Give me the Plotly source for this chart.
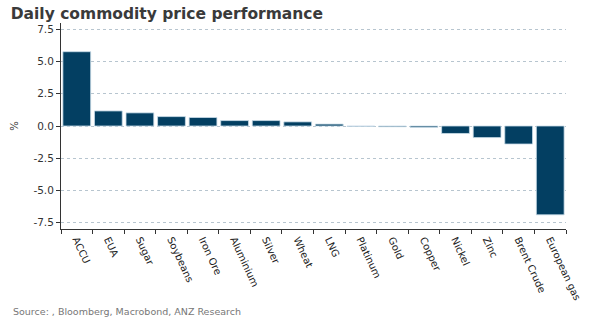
import plotly.graph_objects as go

commodities = ["ACCU", "EUA", "Sugar", "Soybeans", "Iron Ore", "Aluminium", "Silver", "Wheat",
               "LNG", "Platinum", "Gold", "Copper", "Nickel", "Zinc", "Brent Crude", "European gas"]
change_pct = [5.77, 1.17, 1.02, 0.73, 0.66, 0.42, 0.42, 0.32,
              0.15, -0.03, -0.06, -0.10, -0.58, -0.90, -1.40, -6.90]
y_ticks = [-7.5, -5.0, -2.5, 0.0, 2.5, 5.0, 7.5]

BAR = "#033f62"
FONT = "DejaVu Sans"

fig = go.Figure(
    go.Bar(
        x=commodities,
        y=change_pct,
        marker=dict(color=BAR, line=dict(color="#c9dce8", width=0.8)),
    )
)

fig.update_layout(
    width=595,
    height=328,
    margin=dict(l=61, r=22, t=23, b=99),
    plot_bgcolor="white",
    paper_bgcolor="white",
    bargap=0.12,
    showlegend=False,
    font=dict(family=FONT, color="#333333", size=10),
    title=dict(
        text="<b>Daily commodity price performance</b>",
        x=0.018, xanchor="left", y=0.96, yanchor="middle",
        font=dict(family=FONT, size=15.5, color="#3a3a3a"),
    ),
    annotations=[
        dict(
            text="Source: , Bloomberg, Macrobond, ANZ Research",
            xref="paper", yref="paper", x=-0.1, y=-0.4,
            xanchor="left", yanchor="middle", showarrow=False,
            font=dict(family=FONT, size=9.5, color="#777777"),
        )
    ],
)

fig.update_yaxes(
    range=[-8, 8],
    tickvals=y_ticks,
    ticktext=[f"{v:.1f}" for v in y_ticks],
    showgrid=True, gridcolor="#b7c5cf", griddash="dot", gridwidth=1,
    zeroline=False,
    showline=True, linecolor="#333333", linewidth=1,
    ticks="outside", ticklen=4, tickcolor="#333333",
    tickfont=dict(family=FONT, size=10.5, color="#333333"),
    title=dict(text="%", font=dict(family=FONT, size=10, color="#333333"), standoff=12),
)

fig.update_xaxes(
    tickangle=65,
    showline=True, linecolor="#333333", linewidth=1,
    ticks="outside", ticklen=4, tickcolor="#333333", tickson="boundaries",
    showgrid=False,
    tickfont=dict(family=FONT, size=10, color="#222222"),
)

fig.write_html("out.html")
